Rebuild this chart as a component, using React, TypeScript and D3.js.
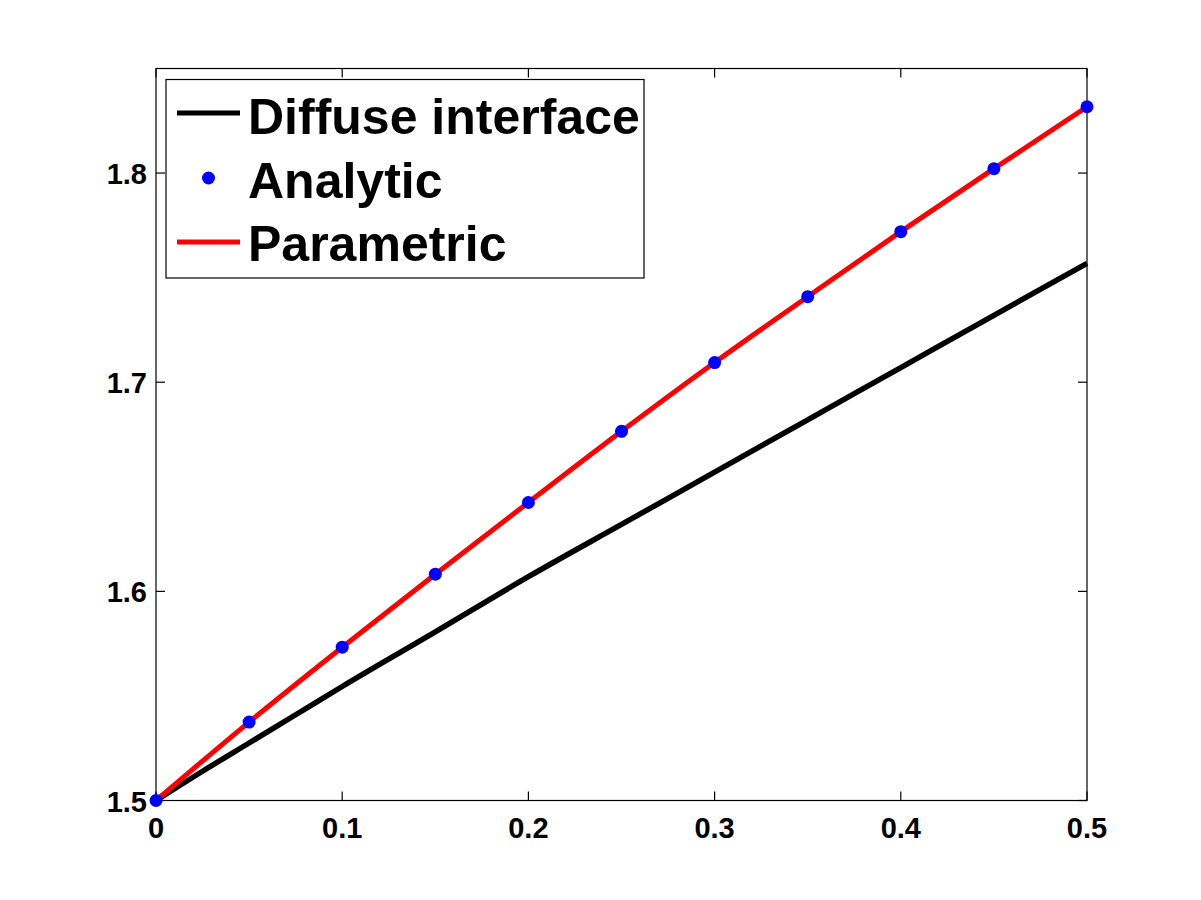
import { useRef, useEffect } from 'react'
import * as d3 from 'd3'

// x positions (analytic samples)
const xs = [0, 0.05, 0.1, 0.15, 0.2, 0.25, 0.3, 0.35, 0.4, 0.45, 0.5]
const analytic = [1.5, 1.5375, 1.5733, 1.6082, 1.6425, 1.6765, 1.7094, 1.7409, 1.772, 1.8021, 1.8317]
const parametric = [1.5, 1.5375, 1.5733, 1.6082, 1.6425, 1.6765, 1.7094, 1.7409, 1.772, 1.8021, 1.8317]

// diffuse interface curve
const diffuseX = [0, 0.025, 0.05, 0.075, 0.1, 0.15, 0.2, 0.25, 0.3, 0.35, 0.4, 0.45, 0.5]
const diffuseY = [1.5, 1.514, 1.5275, 1.541, 1.5545, 1.5806, 1.607, 1.632, 1.657, 1.682, 1.707, 1.732, 1.7568]

const xTicks = [0, 0.1, 0.2, 0.3, 0.4, 0.5]
const yTicks = [1.5, 1.6, 1.7, 1.8]
const legendLabels = ['Diffuse interface', 'Analytic', 'Parametric']

const FONT = "'Liberation Sans', Arial, Helvetica, sans-serif"

export default function App() {
  const svgRef = useRef<SVGSVGElement>(null)

  useEffect(() => {
    if (!svgRef.current) return
    const svg = d3.select(svgRef.current)
    svg.selectAll('*').remove()

    const left = 156, right = 1087, top = 68.5, bottom = 800.5
    const x = d3.scaleLinear().domain([0, 0.5]).range([left, right])
    const y = d3.scaleLinear().domain([1.5, 1.85]).range([bottom, top])

    svg.append('rect').attr('width', 1201).attr('height', 900).attr('fill', '#fff')

    // axes box
    svg.append('rect')
      .attr('x', left).attr('y', top)
      .attr('width', right - left).attr('height', bottom - top)
      .attr('fill', 'none').attr('stroke', '#000').attr('stroke-width', 1.2)

    const tick = 9
    xTicks.forEach(t => {
      svg.append('line').attr('x1', x(t)).attr('x2', x(t)).attr('y1', bottom).attr('y2', bottom - tick)
        .attr('stroke', '#000').attr('stroke-width', 1.2)
      svg.append('line').attr('x1', x(t)).attr('x2', x(t)).attr('y1', top).attr('y2', top + tick)
        .attr('stroke', '#000').attr('stroke-width', 1.2)
      svg.append('text').attr('x', x(t)).attr('y', 838)
        .attr('text-anchor', 'middle')
        .attr('font-family', FONT).attr('font-weight', 'bold').attr('font-size', 29)
        .text(d3.format('')(t))
    })
    yTicks.forEach(t => {
      svg.append('line').attr('x1', left).attr('x2', left + tick).attr('y1', y(t)).attr('y2', y(t))
        .attr('stroke', '#000').attr('stroke-width', 1.2)
      svg.append('line').attr('x1', right).attr('x2', right - tick).attr('y1', y(t)).attr('y2', y(t))
        .attr('stroke', '#000').attr('stroke-width', 1.2)
      svg.append('text').attr('x', 147).attr('y', y(t) + 11)
        .attr('text-anchor', 'end')
        .attr('font-family', FONT).attr('font-weight', 'bold').attr('font-size', 29)
        .text(t.toFixed(1))
    })

    const line = d3.line<[number, number]>().x(d => x(d[0])).y(d => y(d[1])).curve(d3.curveMonotoneX)

    svg.append('path')
      .attr('d', line(diffuseX.map((v, i) => [v, diffuseY[i]]))!)
      .attr('fill', 'none').attr('stroke', '#000').attr('stroke-width', 5.5)
      .attr('stroke-linejoin', 'round')

    svg.append('path')
      .attr('d', line(xs.map((v, i) => [v, parametric[i]]))!)
      .attr('fill', 'none').attr('stroke', '#ff0000').attr('stroke-width', 5)
      .attr('stroke-linejoin', 'round')

    svg.selectAll('.dot')
      .data(xs.map((v, i) => [v, analytic[i]]))
      .join('circle')
      .attr('class', 'dot')
      .attr('cx', d => x(d[0]))
      .attr('cy', d => y(d[1]))
      .attr('r', 6.5)
      .attr('fill', '#0000ff')

    // legend
    const lg = svg.append('g')
    lg.append('rect').attr('x', 166).attr('y', 79.5).attr('width', 478).attr('height', 198.5)
      .attr('fill', '#fff').attr('stroke', '#000').attr('stroke-width', 1.2)
    const rowY = [113, 178, 242]
    const baseY = [133.5, 197.5, 261]
    lg.append('line').attr('x1', 177).attr('x2', 240).attr('y1', rowY[0]).attr('y2', rowY[0])
      .attr('stroke', '#000').attr('stroke-width', 5)
    lg.append('circle').attr('cx', 208.5).attr('cy', rowY[1]).attr('r', 6.5).attr('fill', '#0000ff')
    lg.append('line').attr('x1', 177).attr('x2', 240).attr('y1', rowY[2]).attr('y2', rowY[2])
      .attr('stroke', '#ff0000').attr('stroke-width', 5)
    legendLabels.forEach((label, i) => {
      lg.append('text').attr('x', 248).attr('y', baseY[i])
        .attr('font-family', FONT).attr('font-weight', 'bold').attr('font-size', 50)
        .text(label)
    })
  }, [])

  return (
    <svg ref={svgRef} width={1201} height={900}
      style={{ position: 'absolute', left: 0, top: 0, display: 'block' }} />
  )
}
